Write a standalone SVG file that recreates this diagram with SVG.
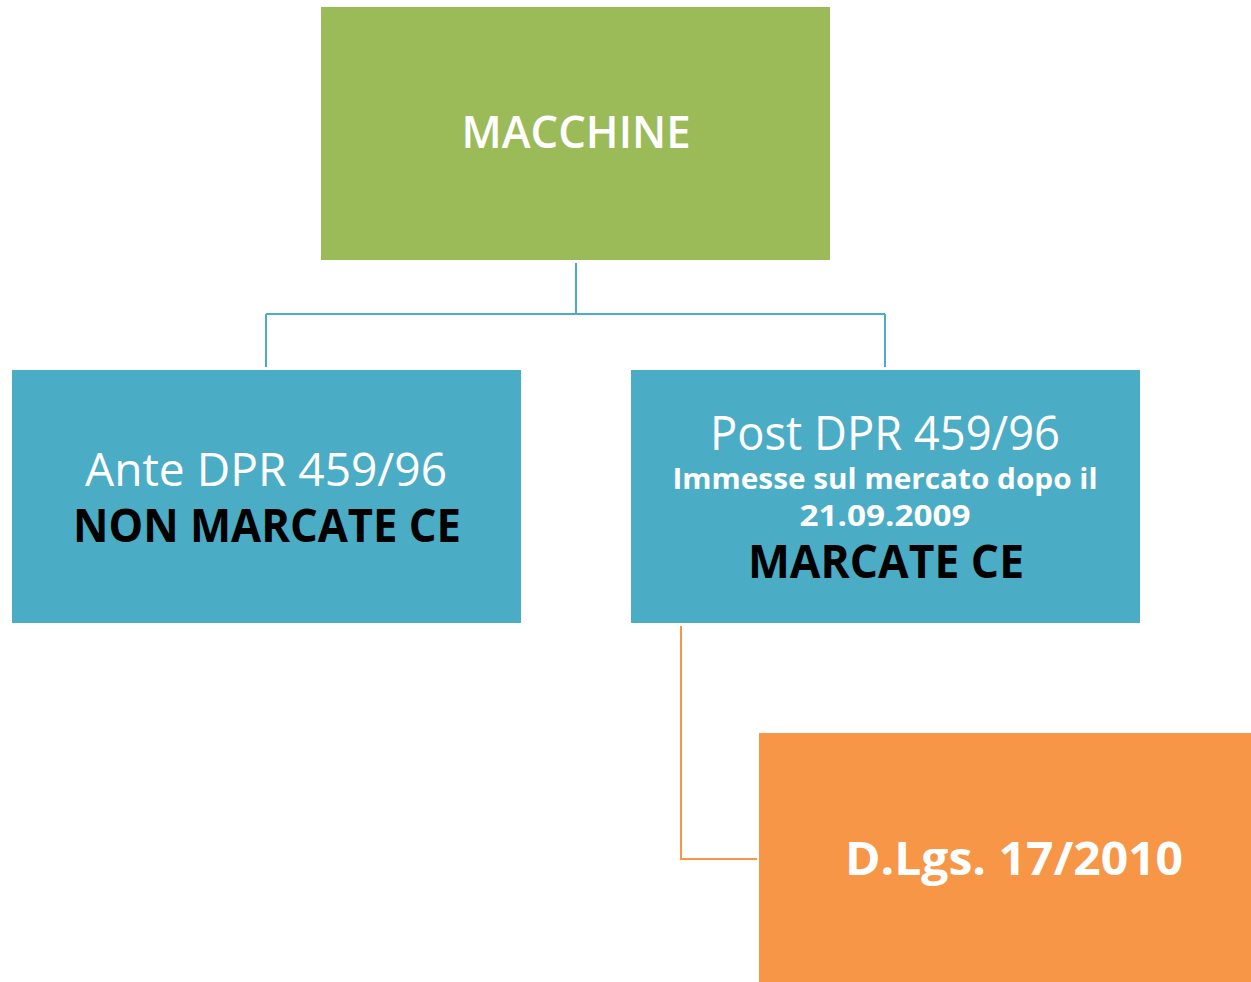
<svg xmlns="http://www.w3.org/2000/svg" width="1251" height="982" viewBox="0 0 1251 982">
<style>
.t{font-family:"Open Sans","DejaVu Sans",sans-serif;text-anchor:middle}
.w{fill:#ffffff}
.k{fill:#000000}
.b{font-weight:bold}
.c{fill:none;stroke-width:2}
</style>
<rect width="1251" height="982" fill="#ffffff"/>
<g id="connectors">
<path class="c" stroke="#4BACC6" d="M576 263 V314 M266 314 H885 M266 314 V367 M885 314 V367"/>
<path class="c" stroke="#F79646" d="M681 626 V859 H757"/>
</g>
<g id="macchine">
<rect x="321" y="7" width="509" height="253" fill="#9BBB59"/>
<text class="t w" x="576" y="148" font-size="46" font-weight="600" textLength="229" lengthAdjust="spacingAndGlyphs">MACCHINE</text>
</g>
<g id="ante">
<rect x="12" y="370" width="509" height="253" fill="#4BACC6"/>
<text class="t w" x="266" y="486" font-size="46" textLength="362" lengthAdjust="spacingAndGlyphs">Ante DPR 459/96</text>
<text class="t k b" x="267" y="542" font-size="46" textLength="388" lengthAdjust="spacingAndGlyphs">NON MARCATE CE</text>
</g>
<g id="post">
<rect x="631" y="370" width="509" height="253" fill="#4BACC6"/>
<text class="t w" x="885" y="450" font-size="48" textLength="350" lengthAdjust="spacingAndGlyphs">Post DPR 459/96</text>
<text class="t w b" x="885" y="489" font-size="28" textLength="425" lengthAdjust="spacingAndGlyphs">Immesse sul mercato dopo il</text>
<text class="t w b" x="885" y="526" font-size="28" textLength="171" lengthAdjust="spacingAndGlyphs">21.09.2009</text>
<text class="t k b" x="886" y="578" font-size="47" textLength="276" lengthAdjust="spacingAndGlyphs">MARCATE CE</text>
</g>
<g id="dlgs">
<rect x="759" y="733" width="492" height="249" fill="#F79646"/>
<text class="t w b" x="1014" y="875" font-size="46" textLength="338" lengthAdjust="spacingAndGlyphs">D.Lgs. 17/2010</text>
</g>
</svg>
